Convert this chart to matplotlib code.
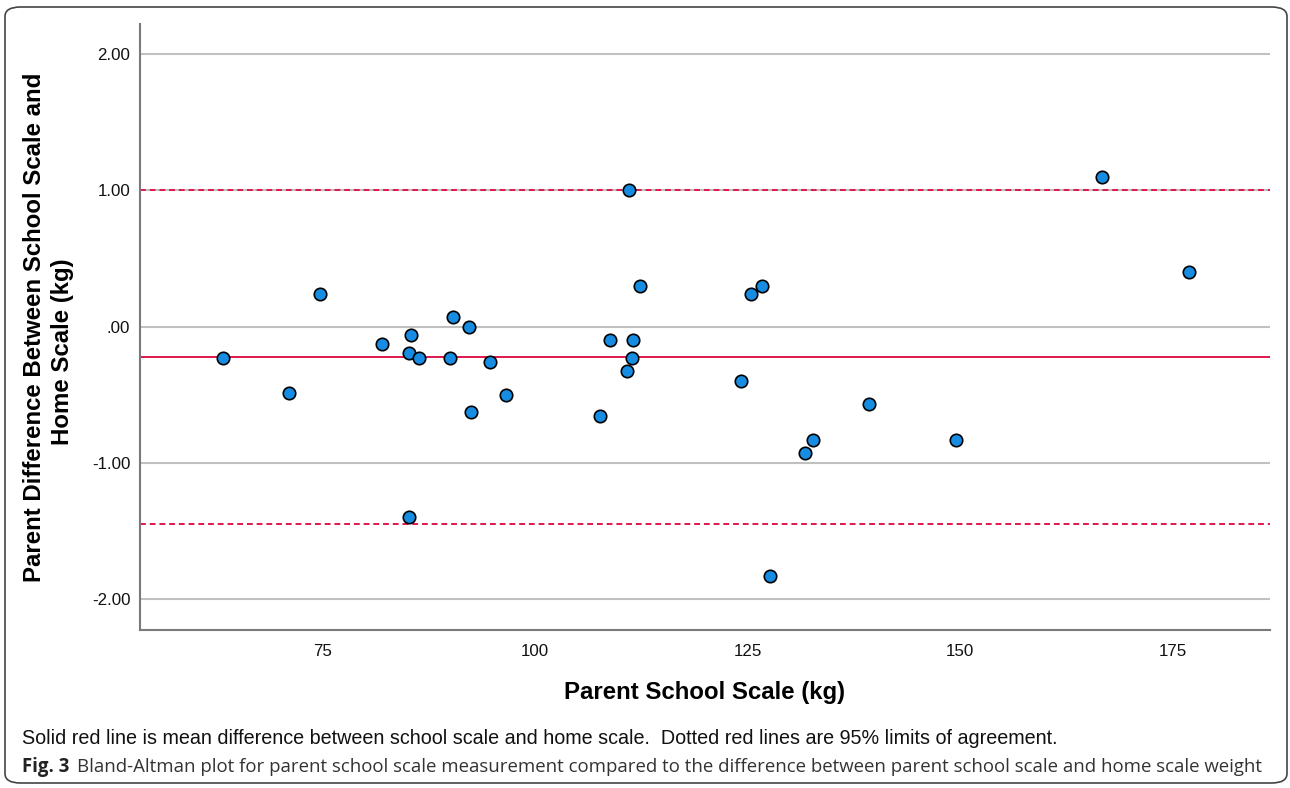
import matplotlib
matplotlib.use("Agg")
import matplotlib.pyplot as plt
from matplotlib.patches import FancyBboxPatch

# data
school_scale = [63.4, 71.1, 74.8, 82.0, 85.5, 85.2, 86.4, 90.0, 90.4, 92.3,
                94.7, 96.6, 92.5, 85.2, 107.7, 111.1, 112.4, 108.8, 111.5, 111.4,
                110.8, 124.2, 125.4, 126.7, 139.3, 132.7, 131.8, 149.5, 127.6,
                166.7, 176.9]
difference = [-0.23, -0.49, 0.235, -0.13, -0.06, -0.195, -0.23, -0.23, 0.07, 0.0,
              -0.26, -0.50, -0.63, -1.40, -0.66, 1.00, 0.30, -0.10, -0.10, -0.23,
              -0.33, -0.40, 0.235, 0.30, -0.565, -0.83, -0.93, -0.83, -1.83,
              1.10, 0.40]
mean_diff = -0.22
upper_loa = 1.00
lower_loa = -1.45

x_ticks = [75, 100, 125, 150, 175]
y_ticks = [2.0, 1.0, 0.0, -1.0, -2.0]
y_tick_labels = ["2.00", "1.00", ".00", "-1.00", "-2.00"]

plt.rcParams['font.family'] = ['Liberation Sans', 'DejaVu Sans']

W, H = 1290, 788
fig = plt.figure(figsize=(W / 100, H / 100), dpi=100)
ax = fig.add_axes([140/W, 1 - 630/H, 1130/W, 606/H])

red = "#e0174f"
ax.set_yticks(y_ticks)
ax.set_yticklabels(y_tick_labels)
ax.set_xticks(x_ticks)
ax.yaxis.grid(True, color="#c0c0c0", linewidth=1.5, zorder=0)
ax.set_axisbelow(True)

ax.axhline(mean_diff, color=red, linewidth=1.4, zorder=2)
ax.axhline(upper_loa, color=red, linewidth=1.4, linestyle=(0, (3, 2)), zorder=2)
ax.axhline(lower_loa, color=red, linewidth=1.4, linestyle=(0, (3, 2)), zorder=2)

ax.scatter(school_scale, difference, s=80, c="#168ce3", edgecolors="black",
           linewidths=1.2, zorder=3)

ax.set_xlim(53.6, 186.4)
ax.set_ylim(-2.227, 2.22)

for s in ["top", "right"]:
    ax.spines[s].set_visible(False)
for s in ["left", "bottom"]:
    ax.spines[s].set_color("#7a7a7a")
    ax.spines[s].set_linewidth(1.5)
ax.tick_params(length=0, labelsize=12.2, labelcolor="#111111")
ax.tick_params(axis="y", pad=7)
ax.tick_params(axis="x", pad=10)

# axis titles
fig.text(705/W, 1 - 692/H, "Parent School Scale (kg)", fontsize=17.3,
         fontweight="bold", ha="center", va="center")
fig.text(35/W, 1 - 327/H, "Parent Difference Between School Scale and",
         fontsize=17.3, fontweight="bold", rotation=90, ha="center", va="center")
fig.text(63/W, 1 - 352/H, "Home Scale (kg)",
         fontsize=17.3, fontweight="bold", rotation=90, ha="center", va="center")

fig.text(22/W, 1 - 738/H, "Solid red line is mean difference between school scale and home scale.  "
         "Dotted red lines are 95% limits of agreement.", fontsize=14.2, va="center", color="#111111")

t1 = fig.text(22/W, 1 - 767/H, "Fig. 3", fontsize=13.4, fontweight="bold",
              family=["Open Sans", "DejaVu Sans"], va="center", color="#222222")
fig.canvas.draw()
bb = t1.get_window_extent()
fig.text((bb.x1 + 8)/W, 1 - 767/H,
         "Bland-Altman plot for parent school scale measurement compared to the difference between parent school scale and home scale weight",
         fontsize=13.4, family=["Open Sans", "DejaVu Sans"], va="center", color="#333333")

border = FancyBboxPatch((5/W, 5/H), 1282/W, 776/H,
                        boxstyle="round,pad=0,rounding_size=0.012",
                        transform=fig.transFigure, fill=False,
                        edgecolor="#444444", linewidth=1.2)
fig.patches.append(border)

fig.savefig("out.png", dpi=100)
